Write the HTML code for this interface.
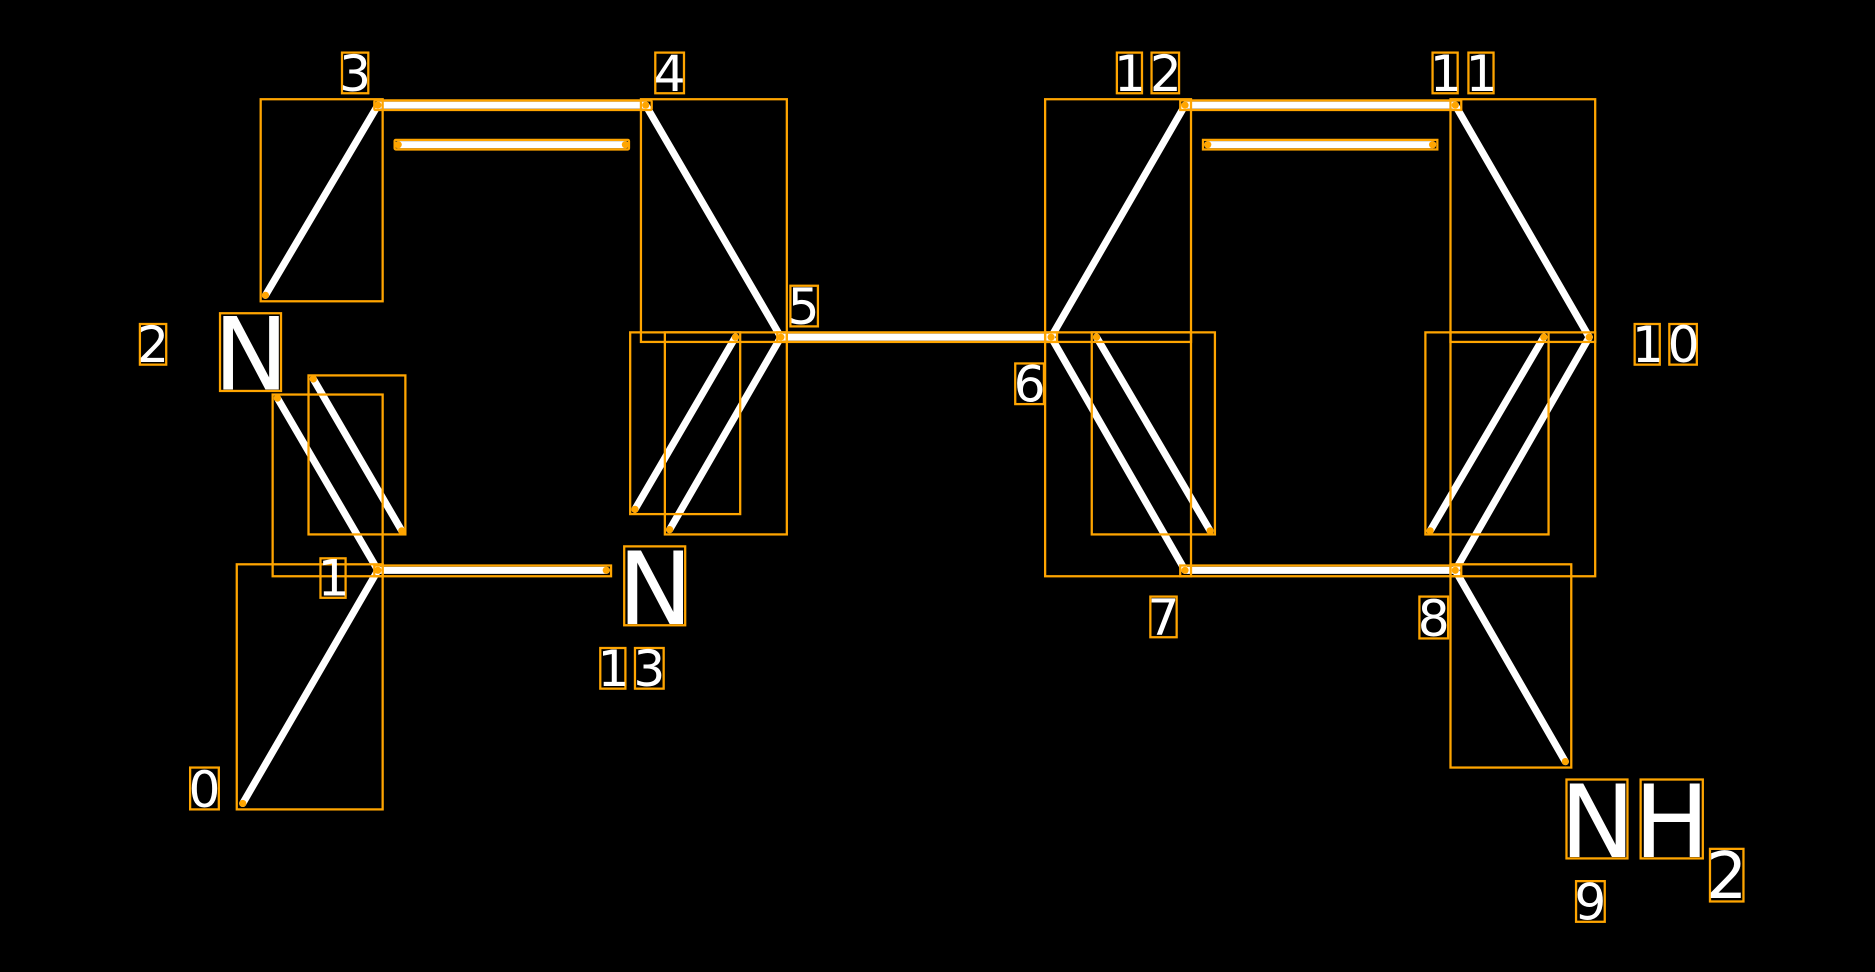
<!DOCTYPE html>
<html><head><style>html,body{margin:0;padding:0;background:#000;overflow:hidden}svg{display:block}</style></head>
<body>
<svg width="1875" height="972" viewBox="0 0 1568 813" preserveAspectRatio="none" xmlns="http://www.w3.org/2000/svg">
<rect width="1568" height="813" fill="#000"/>
<g stroke="#fff" stroke-width="6" stroke-linecap="round">
<line x1="316" y1="88" x2="540" y2="88"/>
<line x1="333" y1="121" x2="523" y2="121"/>
<line x1="316" y1="88" x2="222" y2="247"/>
<line x1="540" y1="88" x2="653" y2="282"/>
<line x1="653" y1="282" x2="879" y2="282"/>
<line x1="653" y1="282" x2="560" y2="443"/>
<line x1="615" y1="282" x2="531" y2="426"/>
<line x1="232" y1="333" x2="316" y2="477"/>
<line x1="262" y1="317" x2="336" y2="444"/>
<line x1="316" y1="477" x2="507" y2="477"/>
<line x1="316" y1="477" x2="203" y2="672"/>
<line x1="879" y1="282" x2="991" y2="88"/>
<line x1="991" y1="88" x2="1217" y2="88"/>
<line x1="1010" y1="121" x2="1198" y2="121"/>
<line x1="1217" y1="88" x2="1329" y2="282"/>
<line x1="879" y1="282" x2="991" y2="477"/>
<line x1="917" y1="282" x2="1012" y2="444"/>
<line x1="991" y1="477" x2="1217" y2="477"/>
<line x1="1217" y1="477" x2="1329" y2="282"/>
<line x1="1291" y1="282" x2="1196" y2="444"/>
<line x1="1217" y1="477" x2="1309" y2="637"/>
</g>
<g fill="none" stroke="#ffa500" stroke-width="1.9">
<rect x="313" y="84" width="232" height="8" rx="1"/>
<rect x="330" y="117" width="196" height="8" rx="1"/>
<rect x="218" y="83" width="102" height="169"/>
<rect x="536" y="83" width="122" height="203"/>
<rect x="650" y="278" width="234" height="8"/>
<rect x="556" y="278" width="102" height="169"/>
<rect x="527" y="278" width="92" height="152"/>
<rect x="184" y="262" width="51" height="65"/>
<rect x="228" y="330" width="92" height="152"/>
<rect x="258" y="314" width="81" height="133"/>
<rect x="313" y="473" width="198" height="9"/>
<rect x="198" y="472" width="122" height="205"/>
<rect x="522" y="457" width="51" height="66"/>
<rect x="874" y="83" width="122" height="203"/>
<rect x="987" y="84" width="235" height="8"/>
<rect x="1006" y="117" width="196" height="8"/>
<rect x="1213" y="83" width="121" height="203"/>
<rect x="874" y="278" width="122" height="204"/>
<rect x="913" y="278" width="103" height="169"/>
<rect x="987" y="473" width="235" height="9"/>
<rect x="1213" y="278" width="121" height="204"/>
<rect x="1192" y="278" width="103" height="169"/>
<rect x="1213" y="472" width="101" height="170"/>
<rect x="1310" y="652" width="51" height="66"/>
<rect x="1372" y="652" width="52" height="66"/>
<rect x="1430" y="710" width="28" height="44"/>
<rect x="159" y="642" width="24" height="35"/>
<rect x="268" y="467" width="21" height="33"/>
<rect x="117" y="271" width="22" height="34"/>
<rect x="286" y="44" width="22" height="34"/>
<rect x="548" y="44" width="24" height="34"/>
<rect x="661" y="239" width="23" height="34"/>
<rect x="849" y="304" width="24" height="34"/>
<rect x="962" y="499" width="22" height="34"/>
<rect x="1187" y="499" width="24" height="35"/>
<rect x="1318" y="737" width="24" height="34"/>
<rect x="1367" y="271" width="21" height="34"/>
<rect x="1396" y="271" width="23" height="34"/>
<rect x="1198" y="44" width="21" height="34"/>
<rect x="1228" y="44" width="21" height="34"/>
<rect x="934" y="44" width="21" height="34"/>
<rect x="963" y="44" width="23" height="34"/>
<rect x="502" y="542" width="21" height="34"/>
<rect x="531" y="542" width="24" height="34"/>
</g>
<g fill="#ffa500">
<circle cx="316" cy="88" r="3"/><circle cx="540" cy="88" r="3"/><circle cx="222" cy="247" r="3"/>
<circle cx="333" cy="121" r="3"/><circle cx="523" cy="121" r="3"/><circle cx="653" cy="282" r="3"/>
<circle cx="879" cy="282" r="3"/><circle cx="560" cy="443" r="3"/><circle cx="615" cy="282" r="3"/>
<circle cx="531" cy="426" r="3"/><circle cx="232" cy="333" r="3"/><circle cx="262" cy="317" r="3"/>
<circle cx="336" cy="444" r="3"/><circle cx="316" cy="477" r="3"/><circle cx="507" cy="477" r="3"/>
<circle cx="203" cy="672" r="3"/><circle cx="991" cy="88" r="3"/><circle cx="1217" cy="88" r="3"/>
<circle cx="1010" cy="121" r="3"/><circle cx="1198" cy="121" r="3"/><circle cx="1329" cy="282" r="3"/>
<circle cx="991" cy="477" r="3"/><circle cx="917" cy="282" r="3"/><circle cx="1012" cy="444" r="3"/>
<circle cx="1217" cy="477" r="3"/><circle cx="1291" cy="282" r="3"/><circle cx="1196" cy="444" r="3"/>
<circle cx="1309" cy="637" r="3"/>
</g>
<g fill="#fff" font-family="'DejaVu Sans','Liberation Sans',sans-serif" text-anchor="middle">
<g font-size="84">
<text x="210" y="326">N</text>
<text x="548" y="522">N</text>
<text x="1336" y="717">N</text>
<text x="1398" y="717">H</text>
</g>
<text x="1444" y="751" font-size="54">2</text>
<g font-size="42">
<text x="171" y="675">0</text>
<text x="279" y="498">1</text>
<text x="128" y="303">2</text>
<text x="297" y="76">3</text>
<text x="560" y="76">4</text>
<text x="672" y="271">5</text>
<text x="861" y="336">6</text>
<text x="973" y="531">7</text>
<text x="1199" y="532">8</text>
<text x="1330" y="769">9</text>
<text x="1378" y="303">1</text><text x="1408" y="303">0</text>
<text x="1209" y="76">1</text><text x="1239" y="76">1</text>
<text x="945" y="76">1</text><text x="975" y="76">2</text>
<text x="513" y="574">1</text><text x="543" y="574">3</text>
</g>
</g>
</svg>
</body></html>
